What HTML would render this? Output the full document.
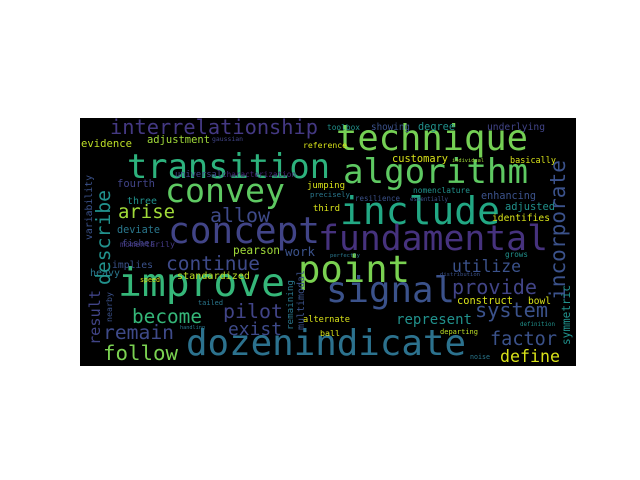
<!DOCTYPE html>
<html><head><meta charset="utf-8"><style>
html,body{margin:0;padding:0;background:#fff;width:640px;height:480px;overflow:hidden}
svg text{font-family:"DejaVu Sans Mono","Liberation Mono",monospace}
</style></head><body>
<svg width="640" height="480">
<rect x="80" y="118" width="496" height="248" fill="#000"/>
<g id="w"></g>
</svg>
<script>
const words=["transition","technique","convey","concept","algorithm","include","fundamental","point","signal","improve","dozenindicate","interrelationship","arise","allow","continue","become","pilot","exist","remain","follow","utilize","provide","system","factor","define","represent","fourth","three","deviate","fisher","evidence","adjustment","gaussian","reference","jumping","precisely","third","toolbox","showing","degree","underlying","customary","basically","enhancing","nomenclature","resilience","adjusted","identifies","implies","heavy","pearson","work","standardized","alternate","ball","construct","bowl","definition","departing","grows","universal","characterization","momentarily","noise","individual","essentially","perfectly","distribution","tailed","handling","speed"];
const xs=[127,336,165,168,343,340,318,298,326,118,186,110,118,210,166,132,223,228,103,103,452,452,475,490,500,396,117,127,117,122,81,147,212,303,307,310,313,327,371,418,487,392,510,481,413,355,505,492,112,90,233,285,177,303,320,457,528,520,440,505,175,222,120,470,452,410,330,440,198,180,140];
const ys=[178,150,202,243,183,224,250,282,302,296,355,134,218,222,270,323,318,335,339,360,272,294,317,345,362,324,187,204,233,246,147,143,141,148,188,197,211,130,130,130,130,162,163,199,193,201,210,221,268,276,254,256,279,322,336,304,304,326,334,257,177,177,247,359,162,201,257,276,305,329,282];
const ws=[203,192,120,152,185,160,230,112,129,167,280,208,57,60,94,70,60,54,71,75,69,85,73,67,60,76,38,30,43,33,51,63,31,44,38,40,27,33,39,37,58,56,46,55,57,45,50,58,41,30,47,30,73,47,20,56,23,35,38,23,47,74,55,20,32,38,30,40,25,25,20];
const cs=["#2db27d","#75d054","#5ec962","#414487","#5ec962","#22a884","#46327e","#7ad151","#3b528b","#35b779","#2c728e","#443983","#a0da39","#3e4a89","#3e4a89","#35b779","#414487","#3e4a89","#3e4a89","#7ad151","#3b528b","#414487","#3b528b","#3b528b","#d8e219","#21918c","#414487","#21918c","#2a788e","#414487","#bddf26","#a0da39","#414487","#d8e219","#d8e219","#2a788e","#d8e219","#21918c","#3b528b","#21918c","#414487","#d8e219","#d8e219","#3b528b","#21918c","#3b528b","#21918c","#d8e219","#3b528b","#2a788e","#a0da39","#3b528b","#bddf26","#d8e219","#d8e219","#d8e219","#d8e219","#21918c","#bddf26","#21918c","#414487","#482878","#443983","#2a788e","#a0da39","#3b528b","#2a788e","#3b528b","#2a788e","#2a788e","#d8e219"];
const vwords=["incorporate","describe","result","variability","multimodal","symmetric","nearby","remaining"];
const vxs=[565,110,100,92,304,570,112,293];
const vys=[300,285,345,240,330,345,322,330];
const vls=[140,95,55,65,60,60,30,50];
const vcs=["#3b528b","#21918c","#414487","#3b528b","#3b528b","#21918c","#3b528b","#2a788e"];
const g=document.getElementById('w');
const NS="http://www.w3.org/2000/svg";
for(let i=0;i<words.length;i++){
 const t=document.createElementNS(NS,'text');
 t.setAttribute('x',xs[i]);t.setAttribute('y',ys[i]);
 t.setAttribute('font-size',(ws[i]/(0.602*words[i].length)).toFixed(1));t.setAttribute('fill',cs[i]);
 t.setAttribute('textLength',ws[i]);t.setAttribute('lengthAdjust','spacingAndGlyphs');
 t.textContent=words[i];
 
 
 g.appendChild(t);
}
for(let i=0;i<vwords.length;i++){
 const t=document.createElementNS(NS,'text');
 t.setAttribute('x',vxs[i]);t.setAttribute('y',vys[i]);
 t.setAttribute('transform','rotate(-90 '+vxs[i]+' '+vys[i]+')');
 t.setAttribute('font-size',(vls[i]/(0.602*vwords[i].length)).toFixed(1));t.setAttribute('fill',vcs[i]);
 t.setAttribute('textLength',vls[i]);t.setAttribute('lengthAdjust','spacingAndGlyphs');
 t.textContent=vwords[i];
 
 
 g.appendChild(t);
}
</script>
</body></html>
